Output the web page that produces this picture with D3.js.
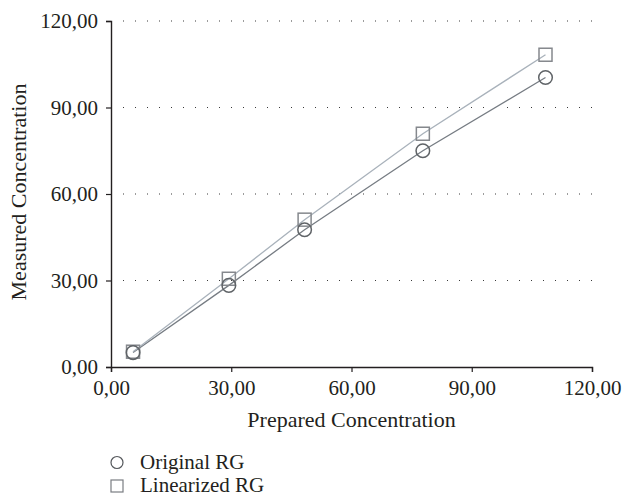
<!DOCTYPE html>
<html>
<head>
<meta charset="utf-8">
<script src="https://cdn.jsdelivr.net/npm/d3@7"></script>
<style>
  html, body { margin: 0; padding: 0; background: #fff; }
  svg { display: block; }
  text { font-family: "Liberation Serif", "DejaVu Serif", serif; fill: #231f20; }
</style>
</head>
<body>
<svg id="chart" width="622" height="498"></svg>
<script>
// Prepared vs. measured concentration for the two response models
const prepared = [5.5, 29.4, 48.3, 77.8, 108.4];
const originalRG = [5.0, 28.3, 47.6, 75.0, 100.4];
const linearizedRG = [5.3, 30.6, 51.1, 80.9, 108.3];
const tickValues = [0, 30, 60, 90, 120];
const seriesNames = ["Original RG", "Linearized RG"];

const fmt = v => d3.format(".2f")(v).replace(".", ",");

const svg = d3.select("#chart");

const x = d3.scaleLinear().domain([0, 120]).range([111, 592]);
const y = d3.scaleLinear().domain([0, 120]).range([367, 21]);

// dotted horizontal grid
svg.append("g")
  .selectAll("line")
  .data(tickValues.filter(d => d > 0))
  .join("line")
  .attr("x1", x(0) + 12).attr("x2", x(120))
  .attr("y1", d => y(d)).attr("y2", d => y(d))
  .attr("stroke", "#3a3a3a")
  .attr("stroke-width", 1.1)
  .attr("stroke-dasharray", "1,11");

// axes
const xAxis = svg.append("g")
  .attr("transform", `translate(0,${y(0)})`)
  .call(d3.axisBottom(x).tickValues(tickValues).tickFormat(fmt).tickSize(5));
const yAxis = svg.append("g")
  .attr("transform", `translate(${x(0)},0)`)
  .call(d3.axisLeft(y).tickValues(tickValues).tickFormat(fmt).tickSize(5).tickPadding(8));

[xAxis, yAxis].forEach(g => {
  g.select(".domain").attr("stroke", "#231f20").attr("stroke-width", 1.4);
  g.selectAll(".tick line").attr("stroke", "#231f20").attr("stroke-width", 1.2);
  g.selectAll(".tick text")
    .attr("font-family", "Liberation Serif, serif")
    .attr("font-size", 21)
    .attr("fill", "#231f20");
});
xAxis.selectAll(".tick text").attr("y", 28).attr("dy", 0);

// axis titles
svg.append("text")
  .attr("x", (x(0) + x(120)) / 2)
  .attr("y", 427)
  .attr("text-anchor", "middle")
  .attr("font-size", 22)
  .text("Prepared Concentration");

svg.append("text")
  .attr("transform", "translate(26,192) rotate(-90)")
  .attr("text-anchor", "middle")
  .attr("font-size", 22)
  .text("Measured Concentration");

const line = d3.line().x(d => x(d[0])).y(d => y(d[1]));

const origPts = prepared.map((p, i) => [p, originalRG[i]]);
const linPts = prepared.map((p, i) => [p, linearizedRG[i]]);

const origColor = "#5f6367";
const origLine = "#767c83";
const linColor = "#85888d";
const linLine = "#a9b2bb";

svg.append("path").datum(origPts)
  .attr("d", line).attr("fill", "none")
  .attr("stroke", origLine).attr("stroke-width", 1.3);
svg.append("path").datum(linPts)
  .attr("d", line).attr("fill", "none")
  .attr("stroke", linLine).attr("stroke-width", 1.3);

// markers (hollow)
svg.append("g").selectAll("rect")
  .data(linPts).join("rect")
  .attr("x", d => x(d[0]) - 6.5).attr("y", d => y(d[1]) - 6.5)
  .attr("width", 13).attr("height", 13)
  .attr("fill", "none").attr("stroke", linColor).attr("stroke-width", 1.5);

svg.append("g").selectAll("circle")
  .data(origPts).join("circle")
  .attr("cx", d => x(d[0])).attr("cy", d => y(d[1]))
  .attr("r", 6.8)
  .attr("fill", "none").attr("stroke", origColor).attr("stroke-width", 1.5);

// legend
const legend = svg.append("g");
legend.append("circle")
  .attr("cx", 117).attr("cy", 462.5).attr("r", 6)
  .attr("fill", "none").attr("stroke", "#55585c").attr("stroke-width", 1.2);
legend.append("rect")
  .attr("x", 111).attr("y", 480).attr("width", 12).attr("height", 12)
  .attr("fill", "none").attr("stroke", "#7a7d82").attr("stroke-width", 1.2);
legend.selectAll("text")
  .data(seriesNames).join("text")
  .attr("x", 140)
  .attr("y", (d, i) => 469 + i * 23)
  .attr("font-size", 21)
  .text(d => d);
</script>
</body>
</html>
